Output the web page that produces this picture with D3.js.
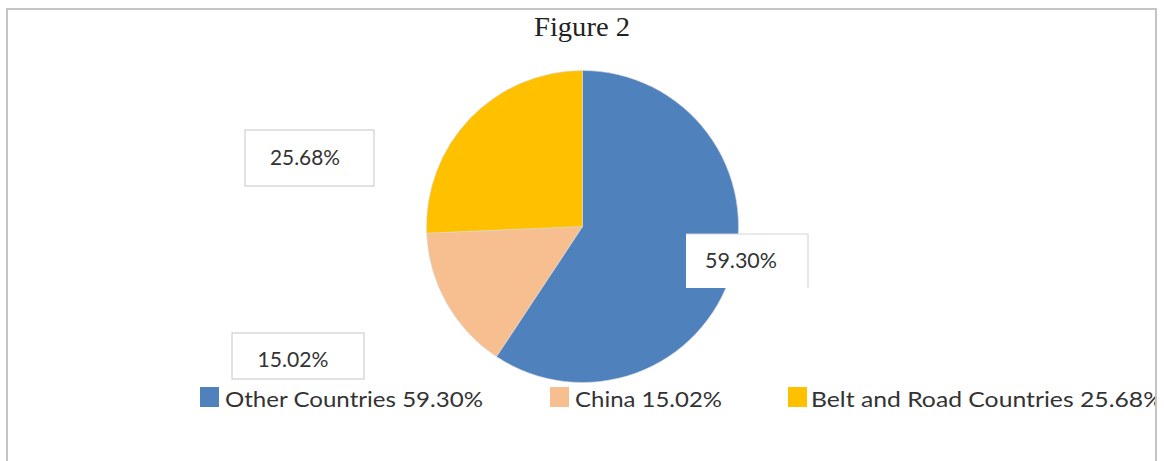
<!DOCTYPE html>
<html>
<head>
<meta charset="utf-8">
<script src="https://cdn.jsdelivr.net/npm/d3@7"></script>
<style>
  html, body { margin: 0; padding: 0; background: #fff; }
  svg { display: block; }
</style>
</head>
<body>
<svg id="chart" width="1164" height="461"></svg>
<script>
// Share of total by group
const categories = ["Other Countries", "China", "Belt and Road Countries"];
const shares = [59.30, 15.02, 25.68];
const colors = ["#4F81BD", "#F7BE8F", "#FFC000"];
const title = "Figure 2";

const svg = d3.select("#chart");
const W = 1164, H = 461;
const fmt = v => v.toFixed(2) + "%";

// Chart frame
svg.append("rect")
  .attr("x", 7).attr("y", 9)
  .attr("width", 1149).attr("height", H)
  .attr("fill", "#fff")
  .attr("stroke", "#c4c4c4")
  .attr("stroke-width", 2);

// Title
svg.append("text")
  .attr("x", 582).attr("y", 36)
  .attr("text-anchor", "middle")
  .attr("font-family", "'Liberation Serif', 'Times New Roman', serif")
  .attr("font-size", 27)
  .attr("fill", "#222")
  .attr("textLength", 96)
  .attr("lengthAdjust", "spacingAndGlyphs")
  .text(title);

// Pie
const cx = 582.5, cy = 226.5, r = 156;
const data = categories.map((c, i) => ({ name: c, value: shares[i], color: colors[i] }));
const pie = d3.pie().sort(null).value(d => d.value);
const arc = d3.arc().innerRadius(0).outerRadius(r);

const g = svg.append("g").attr("transform", `translate(${cx},${cy})`);
g.selectAll("path")
  .data(pie(data))
  .join("path")
  .attr("d", arc)
  .attr("fill", d => d.data.color)
  .attr("stroke", "#d9d9d9")
  .attr("stroke-width", 0.6);

// Data label boxes (placed beside their slices)
const labelFont = "Lato, 'Open Sans', sans-serif";
const labelBoxes = [
  { x: 686, y: 234, w: 122, h: 54, tx: 741, ty: 268, tw: 72, open: true },
  { x: 232, y: 333, w: 132, h: 46, tx: 293, ty: 367, tw: 71 },
  { x: 245, y: 130, w: 129, h: 56, tx: 305, ty: 165, tw: 70 }
];
labelBoxes.forEach((b, i) => {
  svg.append("rect")
    .attr("x", b.x).attr("y", b.y)
    .attr("width", b.w).attr("height", b.h)
    .attr("fill", "#fff")
    .attr("stroke", b.open ? "none" : "#cfcfcf")
    .attr("stroke-width", 1.2);
  if (b.open) {
    // only the top and right edges are outlined on this box
    svg.append("path")
      .attr("d", `M${b.x},${b.y}H${b.x + b.w}V${b.y + b.h}`)
      .attr("fill", "none")
      .attr("stroke", "#d6d6d6")
      .attr("stroke-width", 1.2);
  }
  svg.append("text")
    .attr("x", b.tx).attr("y", b.ty)
    .attr("text-anchor", "middle")
    .attr("font-family", labelFont)
    .attr("font-size", 21)
    .attr("fill", "#333")
    .attr("textLength", b.tw)
    .attr("lengthAdjust", "spacingAndGlyphs")
    .text(fmt(shares[i]));
});

// Legend
const legendItems = [
  { sx: 200, tx: 225, tw: 258 },
  { sx: 550, tx: 575, tw: 147 },
  { sx: 788, tx: 811, tw: 352 }
];
svg.append("clipPath").attr("id", "frameClip")
  .append("rect").attr("x", 8).attr("y", 10).attr("width", 1147).attr("height", H);
const lg = svg.append("g").attr("clip-path", "url(#frameClip)");
legendItems.forEach((l, i) => {
  lg.append("rect")
    .attr("x", l.sx).attr("y", 387)
    .attr("width", 19).attr("height", 20)
    .attr("fill", colors[i]);
  lg.append("text")
    .attr("x", l.tx).attr("y", 407)
    .attr("font-family", labelFont)
    .attr("font-size", 21.5)
    .attr("fill", "#333")
    .attr("textLength", l.tw)
    .attr("lengthAdjust", "spacingAndGlyphs")
    .text(categories[i] + " " + fmt(shares[i]));
});

// Redraw the right frame edge on top of the clipped legend text
svg.append("line")
  .attr("x1", 1156).attr("x2", 1156)
  .attr("y1", 9).attr("y2", H)
  .attr("stroke", "#c4c4c4").attr("stroke-width", 2);
</script>
</body>
</html>
